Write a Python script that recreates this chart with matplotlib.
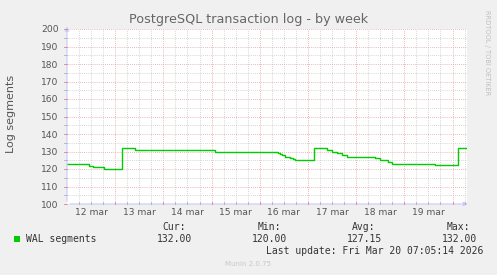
import matplotlib
matplotlib.use('Agg')
import matplotlib.pyplot as plt
import numpy as np

# hours since 12 mar 00:00, value from that hour onward (step data)
change_hours = [0, 11.2, 12.9, 18.2, 27.3, 34.0, 73.8, 105.2, 106.1, 106.9, 108.6,
                111.1, 112.7, 113.6, 123.2, 129.3, 131.8, 134.3, 136.8, 139.3,
                153.4, 155.8, 160.0, 161.7, 183.2, 194.8, 198.5]
wal_values = [123, 122, 121, 120, 132, 131, 130, 129.3, 128.3, 127.8, 126.9,
              126.5, 125.9, 125, 132, 130.7, 130, 129.1, 128, 126.9,
              126.1, 125, 124.1, 122.8, 122.2, 132, 132]
day_labels = ['12 mar', '13 mar', '14 mar', '15 mar', '16 mar', '17 mar', '18 mar', '19 mar']
y_ticks = list(range(100, 201, 10))
legend_stats = [('Cur:', '132.00'), ('Min:', '120.00'), ('Avg:', '127.15'), ('Max:', '132.00')]

BG = '#F0F0F0'
W, H = 497, 275
fig = plt.figure(figsize=(W/100, H/100), dpi=100, facecolor=BG)
L, R, T, B = 67, 467, 29, 204
ax = fig.add_axes([L/W, 1-B/H, (R-L)/W, (B-T)/H], facecolor='white')
xmax = 199.2
ax.set_xlim(0, xmax); ax.set_ylim(100, 200)

# grid
for h in np.arange(6, xmax, 6):
    if h % 24 == 0:
        ax.axvline(h, color='#E8A0A0', lw=0.6, ls=(0, (1, 1.5)), zorder=1)
    else:
        ax.axvline(h, color='#C8C8C8', lw=0.6, ls=(0, (1, 1.5)), zorder=1)
for v in range(105, 201, 5):
    col = '#E8A0A0' if v % 10 == 0 else '#C8C8C8'
    ax.axhline(v, color=col, lw=0.6, ls=(0, (1, 1.5)), zorder=1)

ax.step(change_hours, wal_values, where='post', color='#00CC00', lw=1.0, zorder=3)

for s in ax.spines.values():
    s.set_visible(False)
ax.set_yticks(y_ticks)
ax.set_yticklabels([str(v) for v in y_ticks])
ax.set_xticks([12 + 24*i for i in range(len(day_labels))])
ax.set_xticklabels(day_labels)
ax.tick_params(axis='both', length=0, labelsize=6.6, colors='#555555', pad=3)
ax.tick_params(axis='y', pad=6)
# small tick marks
for h in np.arange(6, xmax, 6):
    ax.plot([h, h], [100, 101.2], color='#E08080' if h % 24 == 0 else '#B0B0B0', lw=0.6,
            clip_on=False, zorder=4)
for v in range(100, 201, 5):
    ax.plot([-1.5, 0], [v, v], color='#B0B0B0' if v % 10 else '#E08080', lw=0.6,
            clip_on=False, zorder=4)
# axis lines with arrows
ax.annotate('', xy=(xmax+1.8, 100), xytext=(0, 100), xycoords='data',
            arrowprops=dict(arrowstyle='-|>', color='#C8C8FF', lw=0.8, mutation_scale=6),
            annotation_clip=False)
ax.annotate('', xy=(0, 203), xytext=(0, 100), xycoords='data',
            arrowprops=dict(arrowstyle='-|>', color='#C8C8FF', lw=0.8, mutation_scale=6),
            annotation_clip=False)

fig.text(248.5/W, 1-19/H, 'PostgreSQL transaction log - by week', ha='center', va='center',
         fontsize=9.2, color='#666666')
fig.text(11/W, 1-114/H, 'Log segments', rotation=90, ha='center', va='center',
         fontsize=8, color='#555555')
fig.text(487/W, 1-53/H, 'RRDTOOL / TOBI OETIKER', rotation=270, ha='center', va='center',
         fontsize=4.8, color='#C0C0C0')

mono = 'DejaVu Sans Mono'
fig.patches.append(plt.Rectangle((14/W, 1-242/H), 6/W, 6/H, transform=fig.transFigure,
                                 facecolor='#00CC00', edgecolor='none'))
fig.text(26/W, 1-239.5/H, 'WAL segments', ha='left', va='center', family=mono,
         fontsize=7, color='#333333')
hdr_x = [186, 281, 375, 470]
val_x = [192, 287, 382, 477]
for (hdr, val), hx, vx in zip(legend_stats, hdr_x, val_x):
    fig.text(hx/W, 1-227.5/H, hdr, ha='right', va='center', family=mono, fontsize=7,
             color='#333333')
    fig.text(vx/W, 1-239.5/H, val, ha='right', va='center', family=mono, fontsize=7,
             color='#333333')
fig.text(483/W, 1-251.5/H, 'Last update: Fri Mar 20 07:05:14 2026', ha='right', va='center',
         family=mono, fontsize=7, color='#333333')
fig.text(248/W, 1-263.5/H, 'Munin 2.0.75', ha='center', va='center', fontsize=5,
         color='#C8C8C8')

fig.savefig('out.png', dpi=100, facecolor=BG)
